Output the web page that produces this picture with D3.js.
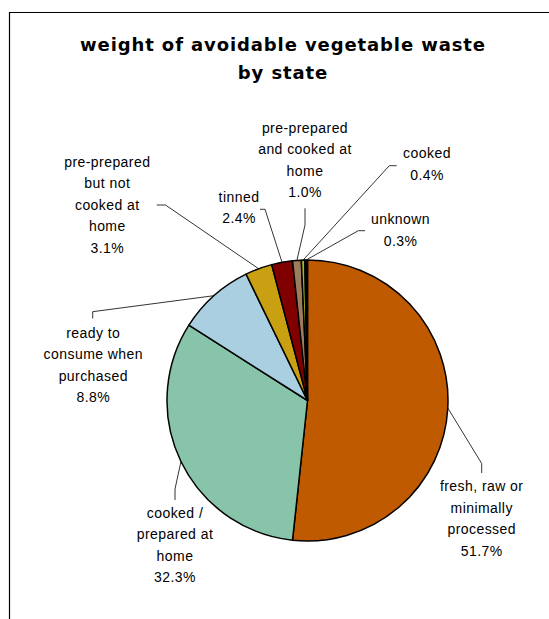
<!DOCTYPE html>
<html>
<head>
<meta charset="utf-8">
<script src="https://cdn.jsdelivr.net/npm/d3@7"></script>
<style>
  html, body { margin: 0; padding: 0; background: #fff; }
  svg { display: block; }
</style>
</head>
<body>
<svg id="chart" width="549" height="619"></svg>
<script>
// ---- data ----
const title = ["weight of avoidable vegetable waste", "by state"];
const categories = [
  "fresh, raw or minimally processed",
  "cooked / prepared at home",
  "ready to consume when purchased",
  "pre-prepared but not cooked at home",
  "tinned",
  "pre-prepared and cooked at home",
  "cooked",
  "unknown"
];
const categoryLines = [
  ["fresh, raw or", "minimally", "processed"],
  ["cooked /", "prepared at", "home"],
  ["ready to", "consume when", "purchased"],
  ["pre-prepared", "but not", "cooked at", "home"],
  ["tinned"],
  ["pre-prepared", "and cooked at", "home"],
  ["cooked"],
  ["unknown"]
];
const values = [51.7, 32.3, 8.8, 3.1, 2.4, 1.0, 0.4, 0.3];

// ---- styles / layout ----
const colors = ["#C05A00", "#88C4AA", "#A9CFE1", "#C9A012", "#800000", "#9C7C5C", "#A8B820", "#000000"];
const cx = 307.5, cy = 400.5, radius = 140.5;
const lineStep = 21.5;
// label layout: text center x, first line center y, leader start and elbow
const labelLayout = [
  { x: 481.7, y: 486,   lead: [[481.7, 473],   [481.7, 463.5]] },
  { x: 175,   y: 512.7, lead: [[175, 500],     [175, 489]] },
  { x: 93.3,  y: 332.7, lead: [[92.7, 318.5],  [92.7, 311.7]] },
  { x: 107.3, y: 161.7, lead: [[156.7, 205],   [165.5, 205]] },
  { x: 239,   y: 196.7, lead: [[260, 209.3],   [265, 209.3]] },
  { x: 305,   y: 127.5, lead: [[305, 208.3],   [305, 225]] },
  { x: 427,   y: 153.3, lead: [[396.7, 165.7], [389.3, 165.7]] },
  { x: 400.5, y: 219,   lead: [[365, 230.7],   [358.3, 230.7]] }
];

const svg = d3.select("#chart");

// frame (chart area border)
svg.append("path")
  .attr("d", "M9.5,619 V12.5 H549")
  .attr("fill", "none")
  .attr("stroke", "#000")
  .attr("stroke-width", 1.2);

// title
const titleG = svg.append("g");
const titleSel = titleG.selectAll("text").data(title).join("text")
  .attr("x", 283)
  .attr("y", (d, i) => 51 + i * 28)
  .attr("text-anchor", "middle")
  .attr("font-family", "'DejaVu Sans', Verdana, sans-serif")
  .attr("font-weight", "bold")
  .attr("font-size", 18)
  .attr("fill", "#000")
  .text(d => d);
// fit first title line to measured width
{
  const node = titleSel.nodes()[0];
  const w = node.getComputedTextLength();
  const target = 405;
  const ls = (target - w) / (title[0].length - 1);
  titleSel.attr("letter-spacing", ls);
}

// pie
const pie = d3.pie().sort(null).value(d => d)
  .startAngle(0).endAngle(2 * Math.PI);
const arcs = pie(values);
const arc = d3.arc().innerRadius(0).outerRadius(radius);

const g = svg.append("g").attr("transform", `translate(${cx},${cy})`);
g.selectAll("path").data(arcs).join("path")
  .attr("d", arc)
  .attr("fill", (d, i) => colors[i])
  .attr("stroke", "#000")
  .attr("stroke-width", 1.5)
  .attr("stroke-linejoin", "round");

// leader lines
const fmt = d3.format(".1f");
const line = d3.line();
svg.append("g").selectAll("path").data(arcs).join("path")
  .attr("d", (d, i) => {
    const a = (d.startAngle + d.endAngle) / 2;
    const px = cx + radius * Math.sin(a);
    const py = cy - radius * Math.cos(a);
    const L = labelLayout[i].lead;
    return line([L[0], L[1], [px, py]]);
  })
  .attr("fill", "none")
  .attr("stroke", "#000")
  .attr("stroke-width", 0.8);

// labels
const labelFont = "'Liberation Sans', Arial, sans-serif";
const labels = svg.append("g").selectAll("text").data(arcs).join("text")
  .attr("text-anchor", "middle")
  .attr("font-family", labelFont)
  .attr("font-size", 14)
  .attr("fill", "#000");
labels.each(function(d, i) {
  const t = d3.select(this);
  const lines = categoryLines[i].concat([fmt(values[i]) + "%"]);
  lines.forEach((s, k) => {
    t.append("tspan")
      .attr("x", labelLayout[i].x)
      .attr("y", labelLayout[i].y + k * lineStep + 5)
      .text(s);
  });
});
// calibrate letter spacing on "consume when"
{
  const probe = svg.append("text").attr("font-family", labelFont).attr("font-size", 14).text("consume when");
  const w = probe.node().getComputedTextLength();
  probe.remove();
  const ls = Math.max(0, (99 - w) / 11);
  labels.attr("letter-spacing", ls);
}
</script>
</body>
</html>
